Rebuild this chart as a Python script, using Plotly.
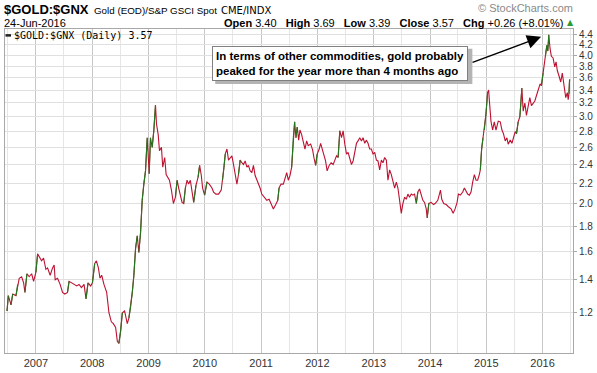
import math
import pandas as pd
import plotly.graph_objects as go

# ---- data: decimal-year dates and $GOLD:$GNX ratio values ----
dec_years = [
    # 2006
    2006.487, 2006.510, 2006.558, 2006.588, 2006.646, 2006.676, 2006.704, 2006.747, 2006.782, 2006.805,
    2006.841, 2006.881, 2006.924, 2006.959,
    # 2007
    2007.000, 2007.030, 2007.058, 2007.101, 2007.136, 2007.177, 2007.207, 2007.253, 2007.296, 2007.324,
    2007.342, 2007.384, 2007.430, 2007.473, 2007.513, 2007.561, 2007.589, 2007.632, 2007.678, 2007.726,
    2007.766, 2007.809, 2007.855, 2007.890, 2007.926, 2007.973,
    # 2008
    2008.004, 2008.044, 2008.074, 2008.110, 2008.138, 2008.168, 2008.209, 2008.257, 2008.297, 2008.340,
    2008.375, 2008.416, 2008.446, 2008.474, 2008.504, 2008.535, 2008.575, 2008.623, 2008.651, 2008.681,
    2008.712, 2008.740, 2008.770, 2008.800, 2008.828, 2008.858, 2008.888, 2008.917, 2008.947, 2008.977,
    2008.995,
    # 2009
    2009.012, 2009.035, 2009.065, 2009.094, 2009.124, 2009.142, 2009.172, 2009.195, 2009.230, 2009.253,
    2009.288, 2009.313, 2009.349, 2009.372, 2009.407, 2009.442, 2009.478, 2009.508, 2009.536, 2009.566,
    2009.596, 2009.625, 2009.655, 2009.685, 2009.713, 2009.743, 2009.773, 2009.802, 2009.844, 2009.880,
    2009.908, 2009.938, 2009.961, 2009.996,
    # 2010
    2010.039, 2010.080, 2010.127, 2010.156, 2010.198, 2010.244, 2010.292, 2010.315, 2010.340, 2010.363,
    2010.393, 2010.421, 2010.451, 2010.481, 2010.510, 2010.540, 2010.570, 2010.598, 2010.628, 2010.658,
    2010.687, 2010.717, 2010.747, 2010.775, 2010.805, 2010.835, 2010.864, 2010.894, 2010.942, 2010.982,
    # 2011
    2011.012, 2011.058, 2011.101, 2011.142, 2011.177, 2011.218, 2011.260, 2011.296, 2011.319, 2011.354,
    2011.395, 2011.425, 2011.455, 2011.483, 2011.513, 2011.543, 2011.572, 2011.596, 2011.619, 2011.642,
    2011.667, 2011.690, 2011.720, 2011.749, 2011.779, 2011.809, 2011.837, 2011.880, 2011.915, 2011.938,
    2011.968, 2011.996,
    # 2012
    2012.032, 2012.057, 2012.085, 2012.115, 2012.145, 2012.173, 2012.209, 2012.244, 2012.280, 2012.310,
    2012.340, 2012.368, 2012.398, 2012.428, 2012.457, 2012.487, 2012.517, 2012.545, 2012.575, 2012.605,
    2012.634, 2012.664, 2012.694, 2012.722, 2012.752, 2012.782, 2012.811, 2012.841, 2012.871, 2012.899,
    2012.929, 2012.959, 2012.988,
    # 2013
    2013.018, 2013.048, 2013.076, 2013.106, 2013.136, 2013.165, 2013.195, 2013.225, 2013.253, 2013.283,
    2013.313, 2013.342, 2013.372, 2013.402, 2013.430, 2013.460, 2013.490, 2013.519, 2013.549, 2013.579,
    2013.607, 2013.637, 2013.667, 2013.696, 2013.726, 2013.756, 2013.784, 2013.814, 2013.844, 2013.873,
    2013.903, 2013.933, 2013.950, 2013.979,
    # 2014
    2014.021, 2014.062, 2014.090, 2014.138, 2014.186, 2014.209, 2014.244, 2014.287, 2014.327, 2014.375,
    2014.411, 2014.446, 2014.481, 2014.504, 2014.540, 2014.581, 2014.611, 2014.641, 2014.669, 2014.699,
    2014.729, 2014.758, 2014.788, 2014.818, 2014.846, 2014.876, 2014.894, 2014.917, 2014.942, 2014.965,
    2014.994,
    # 2015
    2015.023, 2015.041, 2015.058, 2015.083, 2015.112, 2015.142, 2015.172, 2015.212, 2015.248, 2015.278,
    2015.306, 2015.336, 2015.366, 2015.389, 2015.425, 2015.455, 2015.483, 2015.513, 2015.536, 2015.566,
    2015.596, 2015.632, 2015.655, 2015.685, 2015.713, 2015.743, 2015.773, 2015.802, 2015.832, 2015.862,
    2015.890, 2015.920, 2015.956, 2015.979,
    # 2016
    2016.009, 2016.027, 2016.050, 2016.075, 2016.092, 2016.110, 2016.133, 2016.156, 2016.186, 2016.216,
    2016.239, 2016.262, 2016.292, 2016.322, 2016.350, 2016.381, 2016.411, 2016.439, 2016.455, 2016.468,
    2016.479,
]

ratio = [
    # 2006
    1.21, 1.30, 1.245, 1.31, 1.30, 1.37, 1.41, 1.42, 1.38, 1.32,
    1.44, 1.42, 1.44, 1.39,
    # 2007
    1.45, 1.58, 1.56, 1.53, 1.55, 1.47, 1.48, 1.43, 1.48, 1.50,
    1.40, 1.41, 1.37, 1.32, 1.31, 1.32, 1.39, 1.38, 1.37, 1.36,
    1.37, 1.35, 1.37, 1.28, 1.38, 1.36,
    # 2008
    1.38, 1.51, 1.53, 1.48, 1.41, 1.43, 1.37, 1.32, 1.20, 1.15,
    1.14, 1.12, 1.05, 1.04, 1.10, 1.20, 1.21, 1.14, 1.17, 1.23,
    1.32, 1.43, 1.62, 1.72, 1.59, 1.74, 2.03, 2.19, 2.33, 2.72,
    2.52,
    # 2009
    2.30, 2.72, 2.60, 2.81, 3.17, 2.90, 2.76, 2.56, 2.60, 2.37,
    2.48, 2.29, 2.26, 2.23, 2.13, 2.00, 2.06, 2.23, 2.15, 2.06,
    2.01, 2.00, 2.15, 2.23, 2.19, 2.23, 2.13, 2.01, 2.18, 2.26,
    2.39, 2.28, 2.15, 2.08,
    # 2010
    2.21, 2.19, 2.15, 2.11, 2.09, 2.09, 2.13, 2.23, 2.37, 2.52,
    2.58, 2.45, 2.48, 2.50, 2.40, 2.29, 2.19, 2.29, 2.45, 2.42,
    2.40, 2.44, 2.37, 2.39, 2.33, 2.31, 2.39, 2.28, 2.21, 2.15,
    # 2011
    2.09, 2.06, 2.03, 2.04, 2.00, 1.95, 1.99, 2.03, 2.15, 2.19,
    2.19, 2.26, 2.31, 2.23, 2.28, 2.37, 2.72, 2.93, 2.72, 2.86,
    2.69, 2.82, 2.76, 2.65, 2.58, 2.68, 2.62, 2.64, 2.57, 2.48,
    2.39, 2.52,
    # 2012
    2.58, 2.65, 2.57, 2.50, 2.44, 2.33, 2.39, 2.42, 2.40, 2.45,
    2.50, 2.48, 2.81, 2.72, 2.81, 2.64, 2.52, 2.54, 2.45, 2.40,
    2.44, 2.54, 2.65, 2.68, 2.72, 2.68, 2.72, 2.65, 2.69, 2.65,
    2.58, 2.58, 2.52,
    # 2013
    2.54, 2.45, 2.44, 2.34, 2.45, 2.42, 2.48, 2.45, 2.23, 2.34,
    2.29, 2.23, 2.15, 2.21, 2.15, 2.03, 1.91, 2.00, 2.06, 2.04,
    2.09, 2.06, 2.09, 2.08, 2.09, 2.00, 2.11, 2.14, 2.09, 2.03,
    2.01, 1.95, 1.87, 2.00,
    # 2014
    2.01, 1.99, 2.00, 2.03, 2.13, 2.04, 2.00, 1.99, 1.97, 1.95,
    1.91, 1.95, 2.01, 2.09, 2.08, 2.11, 2.15, 2.11, 2.09, 2.08,
    2.11, 2.21, 2.29, 2.23, 2.23, 2.29, 2.34, 2.58, 2.72, 2.82,
    3.04,
    # 2015
    3.36, 3.40, 3.20, 2.94, 2.82, 2.93, 2.82, 2.94, 2.93, 2.82,
    2.77, 2.68, 2.72, 2.64, 2.69, 2.65, 2.72, 2.80, 2.77, 2.93,
    3.00, 3.43, 3.08, 3.20, 3.02, 3.16, 3.28, 3.16, 3.20, 3.23,
    3.31, 3.40, 3.50, 3.47,
    # 2016
    3.68, 3.84, 3.98, 4.19, 4.08, 4.40, 4.12, 3.98, 3.95, 3.79,
    3.88, 3.72, 3.63, 3.53, 3.68, 3.46, 3.28, 3.36, 3.25, 3.34,
    3.57,
]

year_ticks = list(range(2007, 2017))
y_ticks = [1.2, 1.4, 1.6, 1.8, 2.0, 2.2, 2.4, 2.6, 2.8, 3.0, 3.2, 3.4, 3.6, 3.8, 4.0, 4.2, 4.4]

header_symbol = "$GOLD:$GNX"
header_name = "Gold (EOD)/S&P GSCI Spot"
header_exch = "CME/INDX"
header_date = "24-Jun-2016"
quote_open, quote_high, quote_low, quote_close = "3.40", "3.69", "3.39", "3.57"
quote_chg = "+0.26 (+8.01%)"
legend_label = "$GOLD:$GNX (Daily) 3.57"
note_lines = ["In terms of other commodities, gold probably",
              "peaked for the year more than 4 months ago"]

# ---- helpers ----
def to_date(y):
    return pd.Timestamp("2007-01-01") + pd.to_timedelta((y - 2007.0) * 365.25, unit="D")

dates = [to_date(y) for y in dec_years]

W, H = 597, 373
PL, PR, PT, PB = 4, 574, 29, 359  # plot area in pixels


def px(X):
    return (X - PL) / (PR - PL)


def py(Y):
    return (PB - Y) / (PB - PT)


RED = "#bd1131"
GREEN = "#1f7a1f"

fig = go.Figure()
fig.add_trace(go.Scatter(x=dates, y=ratio, mode="lines",
                         line=dict(color=RED, width=1.1), hoverinfo="skip"))

gx, gy = [], []
for i in range(1, len(ratio)):
    if ratio[i] > ratio[i - 1] * 1.05:
        gx += [dates[i - 1], dates[i], None]
        gy += [ratio[i - 1], ratio[i], None]
fig.add_trace(go.Scatter(x=gx, y=gy, mode="lines", connectgaps=False,
                         line=dict(color=GREEN, width=1.1), hoverinfo="skip"))

FONT = "Liberation Sans, Arial, sans-serif"
ann = []
# header
ann.append(dict(text=f"<b>{header_symbol}</b>", x=px(1), y=py(9), font=dict(size=13, color="#000", family=FONT),
                xanchor="left", yanchor="middle"))
ann.append(dict(text=header_name, x=px(91), y=py(10), font=dict(size=9.8, color="#000", family=FONT),
                xanchor="left", yanchor="middle"))
ann.append(dict(text=header_exch, x=px(219), y=py(10), font=dict(size=10, color="#000", family="DejaVu Sans, sans-serif"),
                xanchor="left", yanchor="middle"))
ann.append(dict(text=header_date, x=px(1), y=py(23), font=dict(size=11, color="#000", family=FONT),
                xanchor="left", yanchor="middle"))
nb = "\u00a0"
quote = (f"<b>Open</b> {quote_open}{nb}{nb} <b>High</b> {quote_high}{nb}{nb} <b>Low</b> {quote_low}{nb}{nb} "
         f"<b>Close</b> {quote_close}{nb}{nb} <b>Chg</b> {quote_chg}")
ann.append(dict(text=quote, x=px(566), y=py(23), font=dict(size=11, color="#000", family=FONT),
                xanchor="right", yanchor="middle"))
ann.append(dict(text="▲", x=px(571), y=py(22), font=dict(size=8, color="#2f9a2f", family="DejaVu Sans"),
                xanchor="center", yanchor="middle"))
ann.append(dict(text="© StockCharts.com", x=px(576), y=py(8), font=dict(size=11, color="#8a8a8a", family=FONT),
                xanchor="right", yanchor="middle"))
# in-plot legend
ann.append(dict(text=legend_label, x=px(11), y=py(35.5),
                font=dict(size=10, color="#000", family="DejaVu Sans Mono, monospace"),
                xanchor="left", yanchor="middle"))
# comment box
note = "<b>" + "<br>".join(note_lines) + "</b>"
ann.append(dict(text=note, x=px(212), y=py(46), xanchor="left", yanchor="top", align="left",
                font=dict(size=11.5, color="#000", family=FONT), bgcolor="#ffffff",
                bordercolor="#808080", borderwidth=1, borderpad=3))
for a in ann:
    a.update(xref="paper", yref="paper", showarrow=False)

# arrow to the 2016 peak
ann.append(dict(text="", x=to_date(2015.973), y=math.log10(4.36), xref="x", yref="y",
                showarrow=True, ax=-70, ay=26, arrowhead=2, arrowsize=2.0, arrowwidth=1.4,
                arrowcolor="#000"))

fig.update_layout(annotations=ann)

# drop shadow behind the comment box
fig.add_shape(type="rect", xref="paper", yref="paper", layer="above",
              x0=px(215), x1=px(473), y0=py(49), y1=py(85),
              fillcolor="#b4b4b4", line=dict(width=0))
# legend dash
fig.add_shape(type="line", xref="paper", yref="paper", x0=px(4.5), x1=px(10), y0=py(35.5), y1=py(35.5),
              line=dict(color="#222", width=2.5))

fig.update_layout(
    width=W, height=H, autosize=False,
    margin=dict(l=PL, r=W - PR, t=PT, b=H - PB, pad=0),
    paper_bgcolor="#ffffff", plot_bgcolor="#ffffff",
    showlegend=False,
    font=dict(family=FONT, size=11, color="#333"),
    xaxis=dict(
        type="date",
        range=[to_date(2006.451), to_date(2016.540)],
        tickvals=[f"{y}-01-01" for y in year_ticks],
        ticktext=[str(y) for y in year_ticks],
        showgrid=True, gridcolor="#c6c6c6", gridwidth=1,
        minor=dict(dtick="M6", tick0="2007-07-01", showgrid=True, gridcolor="#e6e6e6", gridwidth=1),
        showline=True, linecolor="#a8a8a8", linewidth=1, mirror=True,
        ticks="", zeroline=False,
        tickfont=dict(size=11, color="#333", family=FONT),
    ),
    yaxis=dict(
        type="log", side="right",
        range=[math.log10(0.994), math.log10(4.523)],
        tickvals=y_ticks,
        ticktext=[f"{v:.1f}" for v in y_ticks],
        showgrid=True, gridcolor="#e0e0e0", gridwidth=1,
        showline=True, linecolor="#a8a8a8", linewidth=1, mirror=True,
        ticks="outside", ticklen=3, tickcolor="#a8a8a8",
        zeroline=False,
        tickfont=dict(size=10, color="#333", family=FONT),
    ),
)

fig.write_html("out.html", config={"displayModeBar": False},
               post_script="document.body.style.margin='0px';")
